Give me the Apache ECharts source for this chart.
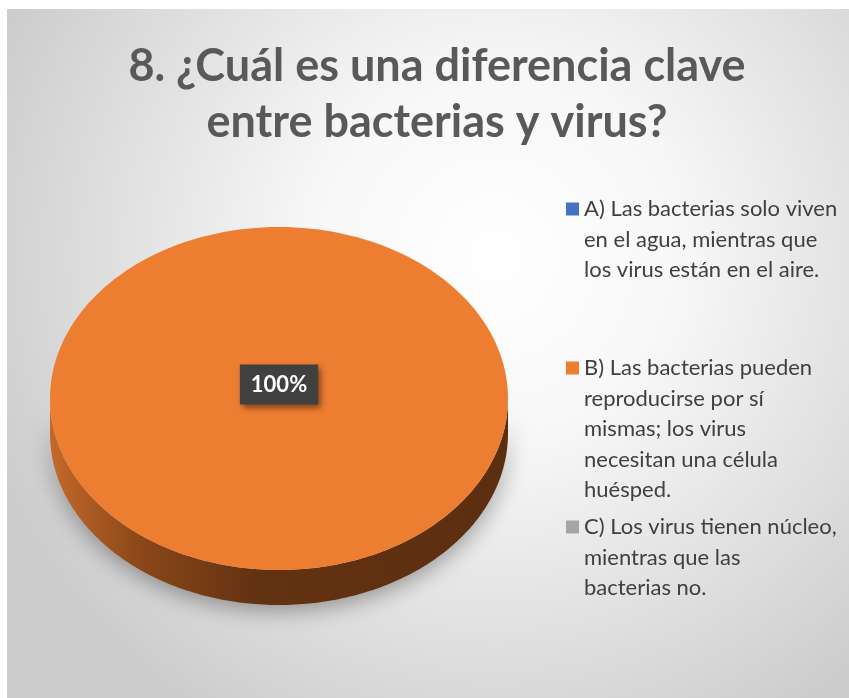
<!DOCTYPE html>
<html>
<head>
<meta charset="utf-8">
<script src="https://cdn.jsdelivr.net/npm/echarts@6/dist/echarts.min.js"></script>
<style>
  html, body { margin: 0; padding: 0; background: #fff; }
  #chart { position: absolute; left: 7px; top: 9px; width: 842px; height: 689px; }
</style>
</head>
<body>
<div id="chart"></div>
<script>
const titleText = '8. ¿Cuál es una diferencia clave\nentre bacterias y virus?'
const categories = [
  'A) Las bacterias solo viven en el agua, mientras que los virus están en el aire.',
  'B) Las bacterias pueden reproducirse por sí mismas; los virus necesitan una célula huésped.',
  'C) Los virus tienen núcleo, mientras que las bacterias no.'
]
const values = [0, 100, 0]
const colors = ['#4472C4', '#ED7D31', '#A5A5A5']

// legend wrapping: words per line, and first-line centre y (chart coords)
const legendWords = [[5, 5, 6], [4, 3, 3, 3, 1], [5, 3, 2]]
const legendCenters = [200, 359, 518]
const lineH = 30.5

// 3d pie geometry
const cx = 272, cy = 389.5, rx = 229, ry = 171.5, depth = 35

const chart = echarts.init(document.getElementById('chart'))
const total = values.reduce((a, b) => a + b, 0)

const wrapName = (name, counts) => {
  const words = name.split(' ')
  const lines = []
  let p = 0
  counts.forEach(c => { lines.push(words.slice(p, p + c).join(' ')); p += c })
  return lines
}

const ellPt = (t, dy) => [cx + rx * Math.sin(t), cy - ry * Math.cos(t) + (dy || 0)]

const renderSlice = (idx) => (params, api) => {
  const v = values[idx]
  if (!v) return { type: 'group', children: [] }
  let before = 0
  for (let k = 0; k < idx; k++) before += values[k]
  const a0 = before / total * Math.PI * 2
  const a1 = (before + v) / total * Math.PI * 2
  const color = api.visual('color')
  const steps = 180
  const children = []

  // side wall, only the front half is visible
  const s0 = Math.max(a0, Math.PI / 2), s1 = Math.min(a1, Math.PI * 1.5)
  if (s1 > s0) {
    const up = [], down = []
    for (let j = 0; j <= steps; j++) {
      const t = s0 + (s1 - s0) * j / steps
      up.push(ellPt(t))
      down.push(ellPt(t, depth))
    }
    children.push({
      type: 'polygon',
      shape: { points: up.concat(down.reverse()) },
      style: {
        fill: new echarts.graphic.LinearGradient(1, 0, 0, 0, [
          { offset: 0, color: '#5c2e10' },
          { offset: 0.55, color: '#633212' },
          { offset: 0.8, color: '#8a4718' },
          { offset: 1, color: '#c4692a' }
        ]),
        shadowBlur: 22,
        shadowColor: 'rgba(0,0,0,0.35)',
        shadowOffsetY: 6
      }
    })
  }

  // top face
  const pts = []
  const full = a1 - a0 >= Math.PI * 2 - 1e-6
  if (!full) pts.push([cx, cy])
  for (let j = 0; j <= steps; j++) pts.push(ellPt(a0 + (a1 - a0) * j / steps))
  children.push({ type: 'polygon', shape: { points: pts }, style: { fill: color } })

  // data label
  const mid = (a0 + a1) / 2
  const lp = full ? [cx, cy - 14] : [cx + rx * 0.55 * Math.sin(mid), cy - ry * 0.55 * Math.cos(mid)]
  children.push({
    type: 'text',
    x: lp[0], y: lp[1],
    style: {
      text: Math.round(v / total * 100) + '%',
      align: 'center', verticalAlign: 'middle',
      fill: '#fff', fontFamily: 'Lato', fontWeight: 'bold', fontSize: 22,
      backgroundColor: '#404040', padding: [10, 11, 8, 11],
      shadowBlur: 6, shadowOffsetX: 3, shadowOffsetY: 3, shadowColor: 'rgba(0,0,0,0.45)'
    }
  })
  return { type: 'group', children }
}

const option = {
  backgroundColor: new echarts.graphic.RadialGradient(0.58, 0.36, 0.78, [
    { offset: 0, color: '#ffffff' },
    { offset: 0.35, color: '#f7f7f7' },
    { offset: 1, color: '#cdcdcd' }
  ]),
  title: {
    text: titleText,
    left: 430,
    textAlign: 'center',
    top: 29,
    padding: 0,
    textStyle: { fontFamily: 'Lato', fontWeight: 'bold', fontSize: 45, lineHeight: 56, color: '#595959' }
  },
  legend: categories.map((name, i) => {
    const nLines = legendWords[i].length
    return {
      data: [name],
      orient: 'vertical',
      left: 559,
      top: legendCenters[i] - (2 * nLines - 1) * lineH / 2,
      padding: 0,
      icon: 'rect',
      itemWidth: 13,
      itemHeight: 13,
      selectedMode: false,
      // blank lines above keep the marker level with the first text line
      formatter: (n) => '\n'.repeat(nLines - 1) + wrapName(n, legendWords[i]).join('\n'),
      textStyle: { fontFamily: 'Lato', fontSize: 22, color: '#404040', lineHeight: lineH }
    }
  }),
  series: categories.map((name, i) => ({
    type: 'custom',
    name: name,
    coordinateSystem: 'none',
    itemStyle: { color: colors[i] },
    data: [values[i]],
    renderItem: renderSlice(i)
  }))
}
chart.setOption(option)
</script>
</body>
</html>
